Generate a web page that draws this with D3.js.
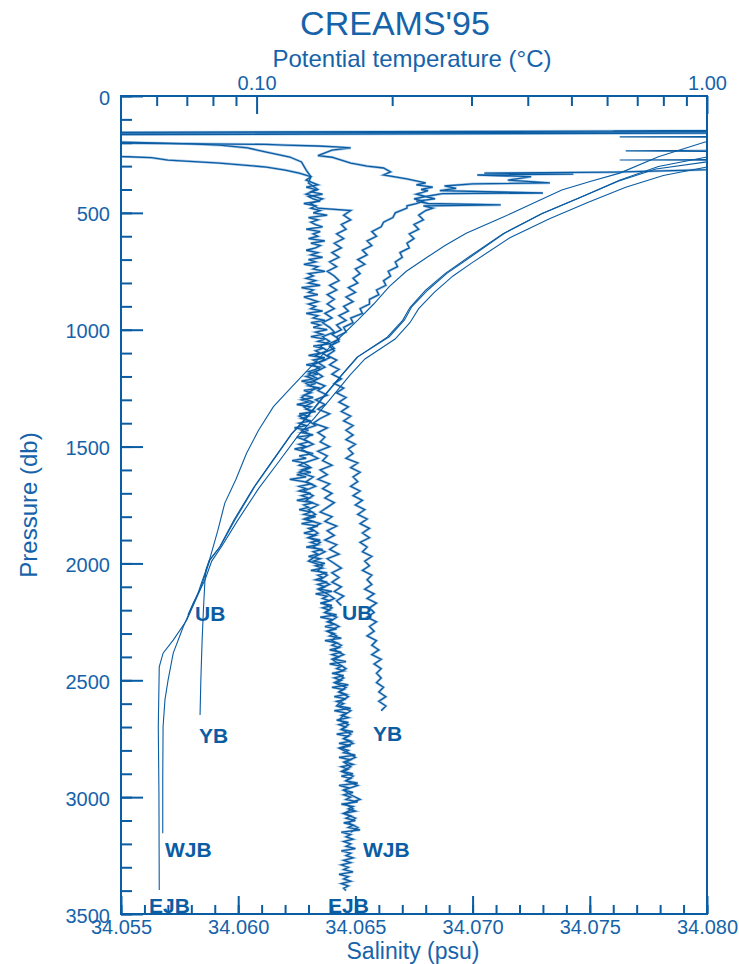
<!DOCTYPE html>
<html><head><meta charset="utf-8">
<script src="https://cdn.jsdelivr.net/npm/d3@7"></script>
<style>
body{margin:0;background:#fff}
svg text{font-family:"Liberation Sans",Arial,Helvetica,sans-serif}
</style>
</head><body>
<svg id="c" width="739" height="964"></svg>
<script>
// ---------------- DATA ----------------
const stationNames = ["UB", "YB", "WJB", "EJB"];
const salinityDomain = [34.055, 34.080];
const temperatureDomain = [0.05, 1.0];
const pressureDomain = [0, 3500];
const pressureMajorTicks = [0, 500, 1000, 1500, 2000, 2500, 3000, 3500];
const salinityMajorTicks = [34.055, 34.060, 34.065, 34.070, 34.075, 34.080];
const temperatureMajorTicks = [0.1, 1.0];
const temperatureMinorTicks = [0.06, 0.07, 0.08, 0.09, 0.2, 0.3, 0.4, 0.5, 0.6, 0.7, 0.8, 0.9];

// Salinity profiles: upper part as [pressure, salinity], deep part in regular pressure bins
const ejbSalUpper = [[148,34.0850],[156,34.0520],[255,34.0530],[260,34.0553],[264,34.0563],[274,34.0570],[287,34.0592],[304,34.0612],[317,34.0620],[330,34.0626],[345,34.0631],[360,34.0629]];
const ejbSalDeepStart = 380, ejbSalBin = 10;
const ejbSalDeep = [
34.0634,34.0629,34.0633,34.0631,34.0636,34.0630,34.0632,34.0635,34.0628,34.0633,
34.0631,34.0635,34.0632,34.0638,34.0630,34.0634,34.0631,34.0633,34.0636,34.0629,
34.0635,34.0632,34.0634,34.0630,34.0637,34.0631,34.0635,34.0633,34.0629,34.0634,
34.0631,34.0636,34.0630,34.0633,34.0628,34.0634,34.0632,34.0637,34.0630,34.0632,
34.0629,34.0633,34.0630,34.0635,34.0627,34.0632,34.0630,34.0634,34.0628,34.0631,
34.0634,34.0630,34.0633,34.0631,34.0636,34.0629,34.0634,34.0632,34.0637,34.0631,
34.0635,34.0632,34.0638,34.0633,34.0636,34.0631,34.0637,34.0634,34.0639,34.0632,
34.0636,34.0633,34.0635,34.0630,34.0637,34.0632,34.0634,34.0629,34.0635,34.0633,
34.0630,34.0634,34.0629,34.0632,34.0627,34.0633,34.0630,34.0635,34.0628,34.0631,
34.0628,34.0632,34.0627,34.0630,34.0625,34.0631,34.0629,34.0633,34.0626,34.0630,
34.0627,34.0631,34.0626,34.0629,34.0624,34.0630,34.0627,34.0632,34.0625,34.0628,
34.0630,34.0626,34.0629,34.0624,34.0628,34.0632,34.0626,34.0629,34.0623,34.0628,
34.0626,34.0630,34.0627,34.0631,34.0625,34.0629,34.0622,34.0628,34.0631,34.0626,
34.0629,34.0626,34.0631,34.0627,34.0630,34.0625,34.0632,34.0628,34.0630,34.0626,
34.0631,34.0628,34.0633,34.0629,34.0632,34.0627,34.0634,34.0630,34.0632,34.0628,
34.0633,34.0630,34.0635,34.0631,34.0634,34.0629,34.0636,34.0632,34.0634,34.0630,
34.0635,34.0632,34.0637,34.0633,34.0636,34.0631,34.0638,34.0634,34.0636,34.0633,
34.0638,34.0634,34.0637,34.0635,34.0640,34.0633,34.0638,34.0636,34.0639,34.0635,
34.0640,34.0636,34.0639,34.0637,34.0642,34.0635,34.0640,34.0638,34.0641,34.0637,
34.0642,34.0638,34.0641,34.0639,34.0644,34.0637,34.0642,34.0640,34.0643,34.0639,
34.0644,34.0640,34.0643,34.0641,34.0646,34.0639,34.0644,34.0642,34.0645,34.0640,
34.0645,34.0641,34.0644,34.0642,34.0647,34.0640,34.0645,34.0643,34.0646,34.0641,
34.0646,34.0642,34.0645,34.0643,34.0648,34.0641,34.0646,34.0644,34.0647,34.0642,
34.0647,34.0643,34.0646,34.0644,34.0649,34.0642,34.0647,34.0645,34.0648,34.0643,
34.0648,34.0644,34.0647,34.0645,34.0650,34.0643,34.0648,34.0646,34.0649,34.0644,
34.0647,34.0645,34.0649,34.0644,34.0648,34.0646,34.0651,34.0643,34.0647,34.0645,
34.0649,34.0645,34.0648,34.0646,34.0651,34.0644,34.0649,34.0647,34.0650,34.0645,
34.0648,34.0646,34.0650,34.0645,34.0649,34.0647,34.0652,34.0644,34.0648,34.0646,
34.0649,34.0645,34.0648,34.0646,34.0650,34.0644,34.0648,34.0646,34.0649,34.0645,
34.0648,34.0644,34.0647,34.0645,34.0649,34.0643,34.0647,34.0645,34.0648,34.0644,
34.0647,34.0645,34.0646];

const wjbSalUpper = [[152,34.0860],[160,34.0515],[195,34.0540],[200,34.0560],[205,34.0580],[210,34.0592],[222,34.0604],[240,34.0612],[261,34.0622],[282,34.0627],[317,34.0629],[345,34.0631],[372,34.0630],[400,34.0634],[420,34.0629],[440,34.0636],[460,34.0631],[480,34.0634]];
const wjbSalDeepStart = 490, wjbSalBin = 20;
const wjbSalDeep = [
34.0648,34.0645,34.0648,34.0644,34.0646,34.0642,34.0645,34.0641,34.0644,34.0640,
34.0643,34.0639,34.0642,34.0638,34.0641,34.0643,34.0639,34.0642,34.0638,34.0641,
34.0638,34.0641,34.0637,34.0640,34.0636,34.0639,34.0641,34.0636,34.0639,34.0635,
34.0638,34.0633,34.0637,34.0632,34.0635,34.0630,34.0634,34.0629,34.0633,34.0630,
34.0627,34.0632,34.0628,34.0631,34.0626,34.0630,34.0633,34.0627,34.0631,34.0628,
34.0632,34.0627,34.0630,34.0634,34.0628,34.0631,34.0626,34.0632,34.0629,34.0633,
34.0628,34.0632,34.0629,34.0634,34.0630,34.0633,34.0628,34.0635,34.0631,34.0634,
34.0630,34.0635,34.0632,34.0637,34.0633,34.0630,34.0636,34.0634,34.0638,34.0635,
34.0639,34.0634,34.0638,34.0641,34.0636,34.0640,34.0637,34.0642,34.0639,34.0643,
34.0638,34.0642,34.0640,34.0644,34.0641,34.0645,34.0640,34.0643,34.0646,34.0642,
34.0645,34.0641,34.0646,34.0643,34.0647,34.0644,34.0642,34.0648,34.0645,34.0643,
34.0647,34.0644,34.0648,34.0645,34.0649,34.0643,34.0647,34.0650,34.0645,34.0648,
34.0644,34.0649,34.0646,34.0651,34.0645,34.0648,34.0652,34.0646,34.0649,34.0645,
34.0650,34.0647,34.0651,34.0648];

const ubSalUpper = [[157,34.0880],[166,34.0510],[200,34.0530],[207,34.0612],[210,34.0620],[214,34.0634],[218,34.0642],[222,34.0648],[232,34.0640],[255,34.0634],[262,34.0640],[287,34.0648],[300,34.0655],[308,34.0662],[325,34.0665],[338,34.0662],[355,34.0672],[372,34.0680],[380,34.0676],[390,34.0683],[400,34.0678],[405,34.0681],[420,34.0676],[430,34.0680],[440,34.0675],[450,34.0679],[460,34.0676],[470,34.0672]];
const ubSalDeepStart = 480, ubSalBin = 20;
const ubSalDeep = [
34.0672,34.0667,34.0666,34.0662,34.0661,34.0657,34.0659,34.0655,34.0657,34.0653,
34.0655,34.0651,34.0654,34.0650,34.0652,34.0649,34.0651,34.0647,34.0650,34.0646,
34.0649,34.0645,34.0647,34.0643,34.0646,34.0642,34.0644,34.0640,34.0643,34.0639,
34.0641,34.0636,34.0639,34.0634,34.0637,34.0633,34.0636,34.0632,34.0637,34.0634,
34.0638,34.0633,34.0637,34.0634,34.0639,34.0635,34.0632,34.0638,34.0634,34.0637,
34.0635,34.0639,34.0634,34.0638,34.0636,34.0640,34.0635,34.0638,34.0634,34.0639,
34.0636,34.0640,34.0637,34.0641,34.0638,34.0635,34.0640,34.0637,34.0642,34.0638,
34.0641,34.0637,34.0642,34.0639,34.0643,34.0638,34.0641,34.0644,34.0640,34.0643,
34.0640,34.0644,34.0641,34.0645,34.0642,34.0644];

const ybSalUpper = [[146,34.0920],[300,34.0850],[318,34.0790],[326,34.0760],[330,34.0705],[334,34.0743],[338,34.0702],[345,34.0725],[360,34.0715],[372,34.0733],[376,34.0700],[385,34.0688],[395,34.0693],[405,34.0686],[415,34.0730],[418,34.0687],[430,34.0680],[440,34.0684],[450,34.0676],[460,34.0681],[466,34.0712],[470,34.0679],[480,34.0683]];
const ybSalDeepStart = 490, ybSalBin = 20;
const ybSalDeep = [
34.0680,34.0677,34.0679,34.0675,34.0677,34.0673,34.0675,34.0672,34.0673,34.0669,
34.0670,34.0667,34.0668,34.0664,34.0665,34.0662,34.0663,34.0659,34.0660,34.0656,
34.0656,34.0652,34.0653,34.0648,34.0649,34.0645,34.0646,34.0642,34.0643,34.0639,
34.0641,34.0638,34.0642,34.0639,34.0643,34.0640,34.0644,34.0641,34.0645,34.0642,
34.0646,34.0643,34.0647,34.0644,34.0648,34.0645,34.0649,34.0646,34.0649,34.0646,
34.0650,34.0647,34.0649,34.0646,34.0651,34.0648,34.0652,34.0649,34.0651,34.0648,
34.0652,34.0649,34.0653,34.0650,34.0654,34.0651,34.0655,34.0652,34.0656,34.0653,
34.0656,34.0652,34.0655,34.0653,34.0657,34.0654,34.0656,34.0653,34.0657,34.0655,
34.0657,34.0654,34.0658,34.0655,34.0659,34.0656,34.0658,34.0655,34.0659,34.0656,
34.0658,34.0655,34.0659,34.0657,34.0660,34.0657,34.0661,34.0658,34.0661,34.0659,
34.0661,34.0659,34.0662,34.0660,34.0663,34.0660,34.0663,34.0661];

// Potential temperature profiles: [pressure (db), theta (degC)]
const ubTemp = [[150,3.0],[296,1.3],[304,1.0],[340,0.80],[390,0.66],[455,0.545],[525,0.447],[605,0.366],[715,0.300],[770,0.273],[840,0.248],[910,0.229],[970,0.219],[1040,0.203],[1125,0.174],[1195,0.161],[1295,0.146],[1380,0.134],[1450,0.124],[1565,0.112],[1680,0.101],[1820,0.0905],[1930,0.0835],[1990,0.0795],[2071,0.0768],[2170,0.0723],[2221,0.0704]];
const ybTemp = [[140,3.0],[150,0.62],[154,2.5],[190,1.3],[197,0.99],[260,0.78],[330,0.64],[366,0.55],[402,0.476],[460,0.41],[516,0.355],[587,0.292],[640,0.262],[688,0.240],[750,0.215],[816,0.197],[890,0.182],[958,0.168],[1060,0.148],[1172,0.130],[1250,0.119],[1329,0.109],[1430,0.101],[1529,0.095],[1640,0.090],[1742,0.085],[1860,0.082],[1977,0.0788],[2028,0.0772],[2071,0.0768],[2200,0.0762],[2328,0.0757],[2500,0.0752],[2649,0.0749]];
const wjbTemp = [[150,3.0],[270,1.6],[274,0.64],[278,1.4],[282,1.0],[312,0.77],[365,0.635],[436,0.520],[505,0.428],[590,0.352],[700,0.290],[760,0.262],[832,0.237],[905,0.219],[960,0.211],[1032,0.195],[1118,0.167],[1190,0.155],[1290,0.140],[1375,0.129],[1446,0.1195],[1560,0.1085],[1675,0.0985],[1815,0.089],[1930,0.0828],[1985,0.0786],[2127,0.0741],[2272,0.0687],[2384,0.0653],[2499,0.0636],[2584,0.0626],[2698,0.0620],[2900,0.0619],[3154,0.0619]];
const ejbTemp = [[140,3.0],[170,2.5],[175,0.64],[178,2.5],[228,1.8],[235,0.66],[240,1.5],[255,1.2],[261,1.0],[302,0.780],[359,0.641],[431,0.527],[502,0.432],[587,0.355],[702,0.292],[758,0.265],[830,0.240],[902,0.221],[958,0.213],[1030,0.197],[1115,0.168],[1186,0.156],[1287,0.141],[1372,0.130],[1443,0.120],[1557,0.109],[1672,0.099],[1814,0.0895],[1928,0.083],[1985,0.0788],[2114,0.0749],[2242,0.0700],[2328,0.0653],[2384,0.0620],[2442,0.0608],[2698,0.0605],[2984,0.0607],[3397,0.0608]];

// Station label anchors: [pressure, value]
const tempLabelAt = [[2246,0.0730],[2769,0.0745],[3256,0.0626],[3496,0.0577]];
const salLabelAt = [[2242,34.06443],[2760,34.06575],[3256,34.06532],[3496,34.06383]];

// ---------------- DRAWING ----------------
const W = 739, H = 964;
const M = {left:121, right:32, top:96, bottom:50};
const lineColor = "#0a5ca3";
const textColor = "#1663aa";
const haloColor = "#a9c8e5";
const svg = d3.select("#c");

const x = d3.scaleLinear().domain(salinityDomain).range([M.left, W - M.right]);
const xt = d3.scaleLog().domain(temperatureDomain).range([M.left, W - M.right]);
const y = d3.scaleLinear().domain(pressureDomain).range([M.top, H - M.bottom]);

svg.append("clipPath").attr("id","plotclip").append("rect")
  .attr("x", M.left).attr("y", M.top)
  .attr("width", W - M.left - M.right).attr("height", H - M.top - M.bottom);

function buildSal(upper, start, bin, deep){
  return upper.concat(deep.map((s,i)=>[start + i*bin, s]));
}
const salProfiles = [
  buildSal(ubSalUpper, ubSalDeepStart, ubSalBin, ubSalDeep),
  buildSal(ybSalUpper, ybSalDeepStart, ybSalBin, ybSalDeep),
  buildSal(wjbSalUpper, wjbSalDeepStart, wjbSalBin, wjbSalDeep),
  buildSal(ejbSalUpper, ejbSalDeepStart, ejbSalBin, ejbSalDeep)
];
const tempProfiles = [ubTemp, ybTemp, wjbTemp, ejbTemp];

const plot = svg.append("g").attr("clip-path","url(#plotclip)");
const salLine = d3.line().x(d=>x(d[1])).y(d=>y(d[0]));
const tempLine = d3.line().x(d=>xt(d[1])).y(d=>y(d[0]));

plot.selectAll("path.salhalo").data(salProfiles).join("path")
  .attr("class","salhalo").attr("d", salLine)
  .attr("fill","none").attr("stroke", haloColor).attr("stroke-width", 2.6);
plot.selectAll("path.sal").data(salProfiles).join("path")
  .attr("class","sal").attr("d", salLine)
  .attr("fill","none").attr("stroke", lineColor).attr("stroke-width", 1.3);
plot.selectAll("path.temp").data(tempProfiles).join("path")
  .attr("class","temp").attr("d", tempLine)
  .attr("fill","none").attr("stroke", lineColor).attr("stroke-width", 1.1);

// frame
svg.append("rect").attr("x", M.left).attr("y", M.top)
  .attr("width", W - M.left - M.right).attr("height", H - M.top - M.bottom)
  .attr("fill","none").attr("stroke", lineColor).attr("stroke-width", 2);

function styleAxis(g){
  g.select(".domain").remove();
  g.attr("font-family", null).attr("font-size", null);
  g.selectAll("line").attr("stroke", lineColor).attr("stroke-width", 2);
  g.selectAll("text").attr("fill", textColor).style("font-size","20px");
}

// left axis
svg.append("g").attr("transform",`translate(${M.left},0)`)
  .call(d3.axisLeft(y).tickValues(d3.range(0, 3501, 100)).tickSize(-11).tickSizeOuter(0).tickFormat(""))
  .call(styleAxis);
svg.append("g").attr("transform",`translate(${M.left},0)`)
  .call(d3.axisLeft(y).tickValues(pressureMajorTicks).tickSize(-22).tickSizeOuter(0).tickPadding(11).tickFormat(d3.format("d")))
  .call(styleAxis)
  .selectAll("text").attr("dy","0.4em");

// bottom axis
svg.append("g").attr("transform",`translate(0,${H - M.bottom})`)
  .call(d3.axisBottom(x).tickValues(d3.range(0, 26).map(i=>34.055 + i*0.001)).tickSize(-9).tickSizeOuter(0).tickFormat(""))
  .call(styleAxis);
svg.append("g").attr("transform",`translate(0,${H - M.bottom})`)
  .call(d3.axisBottom(x).tickValues(salinityMajorTicks).tickSize(-18).tickSizeOuter(0).tickPadding(6).tickFormat(d3.format(".3f")))
  .call(styleAxis);

// top axis
svg.append("g").attr("transform",`translate(0,${M.top})`)
  .call(d3.axisTop(xt).tickValues(temperatureMinorTicks).tickSize(-10).tickSizeOuter(0).tickFormat(""))
  .call(styleAxis);
svg.append("g").attr("transform",`translate(0,${M.top})`)
  .call(d3.axisTop(xt).tickValues(temperatureMajorTicks).tickSize(-18).tickSizeOuter(0).tickPadding(6).tickFormat(d3.format(".2f")))
  .call(styleAxis);

// titles
svg.append("text").attr("x", 395).attr("y", 35).attr("text-anchor","middle")
  .attr("fill", textColor).style("font-size","34px").text("CREAMS'95");
svg.append("text").attr("x", 412).attr("y", 67).attr("text-anchor","middle")
  .attr("fill", textColor).style("font-size","24px").text("Potential temperature (°C)");
svg.append("text").attr("x", 413).attr("y", 959).attr("text-anchor","middle")
  .attr("fill", textColor).style("font-size","23px").text("Salinity (psu)");
svg.append("text").attr("transform","translate(37,505) rotate(-90)").attr("text-anchor","middle")
  .attr("fill", textColor).style("font-size","24px").text("Pressure (db)");

// station labels
svg.selectAll("text.tlab").data(stationNames).join("text").attr("class","tlab")
  .attr("x",(d,i)=>xt(tempLabelAt[i][1])).attr("y",(d,i)=>y(tempLabelAt[i][0]))
  .attr("fill", lineColor).style("font-size","21px").style("font-weight","bold").text(d=>d);
svg.selectAll("text.slab").data(stationNames).join("text").attr("class","slab")
  .attr("x",(d,i)=>x(salLabelAt[i][1])).attr("y",(d,i)=>y(salLabelAt[i][0]))
  .attr("fill", lineColor).style("font-size","21px").style("font-weight","bold").text(d=>d);
</script>
</body></html>
